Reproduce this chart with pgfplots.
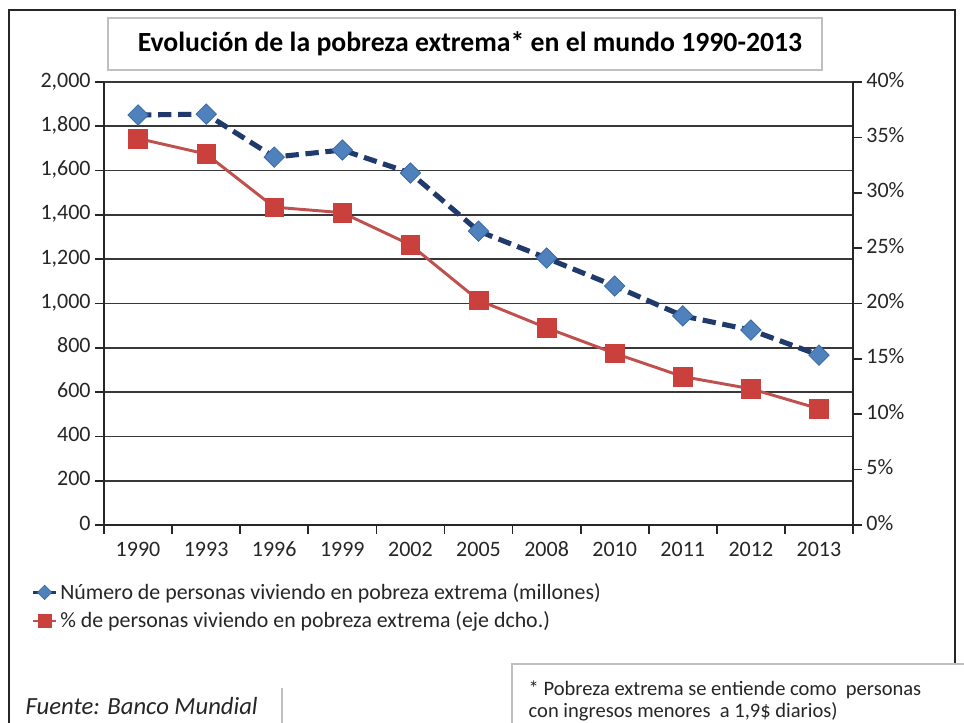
\documentclass[border=0pt]{standalone}
\usepackage{fontspec}
\setmainfont{Carlito}
\usepackage{pgfplots}
\pgfplotsset{compat=1.18}
\definecolor{bluefill}{HTML}{4F81BD}
\definecolor{blueedge}{HTML}{3B6AA5}
\definecolor{navy}{HTML}{1F3A6B}
\definecolor{redfill}{HTML}{C9403D}
\definecolor{redline}{HTML}{C0504D}
\definecolor{ink}{HTML}{262626}

% millions of people
\pgfplotstableread{
idx val
0 1851
1 1855
2 1661
3 1693
4 1589
5 1327
6 1205
7 1079
8 944
9 880
10 767
}\personas
% percent of population
\pgfplotstableread{
idx val
0 34.9
1 33.5
2 28.7
3 28.2
4 25.3
5 20.3
6 17.8
7 15.5
8 13.4
9 12.3
10 10.5
}\porcentaje

\begin{document}
\begin{tikzpicture}[x=0.75pt,y=0.75pt]
\clip (0,0) rectangle (964,722);
\fill[white] (0,0) rectangle (964,722);
\coordinate (O) at (104,197);
% outer frame
\draw[ink, line width=2.2pt] (9,-10) -- (9,712) -- (955,712) -- (955,-10);
% title box
\draw[black!25, line width=0.8pt, fill=white] (108,704) rectangle (822,652);
\node[font=\fontsize{20.8}{24}\selectfont\bfseries, text=black] at (470,678)
  {Evolución de la pobreza extrema* en el mundo 1990-2013};

\pgfplotsset{
  base/.style={
    at={(O)}, anchor=south west,
    scale only axis, width=561.75pt, height=332.25pt,
    xmin=-0.5, xmax=10.5, clip=false,
    tick align=outside, major tick length=6.5pt,
    tick style={draw=ink, line width=1.3pt},
    axis line style={draw=ink, line width=1.6pt, -},
    ticklabel style={font=\fontsize{16.5}{19}\selectfont, text=ink},
    typeset ticklabels with strut,
  },
}

\begin{axis}[base,
  ymin=0, ymax=2000,
  axis x line*=bottom, axis y line*=left,
  xtick={-0.5,0.5,...,10.5}, xticklabels={},
  extra x ticks={0,1,2,3,4,5,6,7,8,9,10},
  extra x tick labels={1990,1993,1996,1999,2002,2005,2008,2010,2011,2012,2013},
  extra x tick style={tick style={draw=none}},
  ytick={0,200,...,2000},
  yticklabels={0,200,400,600,800,{1,000},{1,200},{1,400},{1,600},{1,800},{2,000}},
  ymajorgrids, grid style={draw=black!78, line width=1.3pt},
]
\addplot[navy, line width=3.8pt, dash pattern=on 10pt off 5pt,
  mark=square*, mark size=5.4pt,
  mark options={rotate=45, solid, fill=bluefill, draw=blueedge, line width=0.6pt}]
  table[x=idx, y=val] {\personas};
\end{axis}

\begin{axis}[base,
  ymin=0, ymax=40,
  axis y line*=right, axis x line=none,
  ytick={0,5,...,40},
  yticklabels={0\%,5\%,10\%,15\%,20\%,25\%,30\%,35\%,40\%},
  legend style={at={(-0.097,-0.125)}, anchor=north west, draw=none, fill=none,
    font=\fontsize{16.4}{19}\selectfont, text=ink, inner sep=0pt,
    row sep=4pt, legend cell align=left,
    /tikz/every even column/.append style={column sep=2pt}},
  legend image code/.code={%
    \draw[mark repeat=2, mark phase=2, #1] plot coordinates {(0pt,0pt) (8.5pt,0pt) (17pt,0pt)};},
]
\addlegendimage{navy, line width=2.5pt, mark=square*, mark size=3.8pt,
  mark options={rotate=45, fill=bluefill, draw=blueedge, line width=0.5pt}}
\addlegendentry{Número de personas viviendo en pobreza extrema (millones)}
\addlegendimage{redline, line width=2pt, mark=square*, mark size=5pt,
  mark options={fill=redfill, draw=redfill, line width=0.4pt}}
\addlegendentry{\% de personas viviendo en pobreza extrema (eje dcho.)}
\addplot[forget plot, redline, line width=2.2pt,
  mark=square*, mark size=7pt,
  mark options={fill=redfill, draw=redfill, line width=0.4pt}]
  table[x=idx, y=val] {\porcentaje};
\end{axis}

% footnotes
\draw[black!25, line width=0.8pt] (282,34) -- (282,-10);
\node[anchor=west, font=\fontsize{18.5}{21}\selectfont\itshape, text=ink] at (21,16)
  {Fuente: Banco Mundial};
\draw[black!25, line width=0.8pt, fill=white] (512,-10) rectangle (980,58);
\node[anchor=west, font=\fontsize{15.4}{18}\selectfont, text=ink] at (524,32)
  {* Pobreza extrema se entiende como \ personas};
\node[anchor=west, font=\fontsize{15.4}{18}\selectfont, text=ink] at (524,10)
  {con ingresos menores \ a 1,9\$ diarios)};
\end{tikzpicture}
\end{document}
